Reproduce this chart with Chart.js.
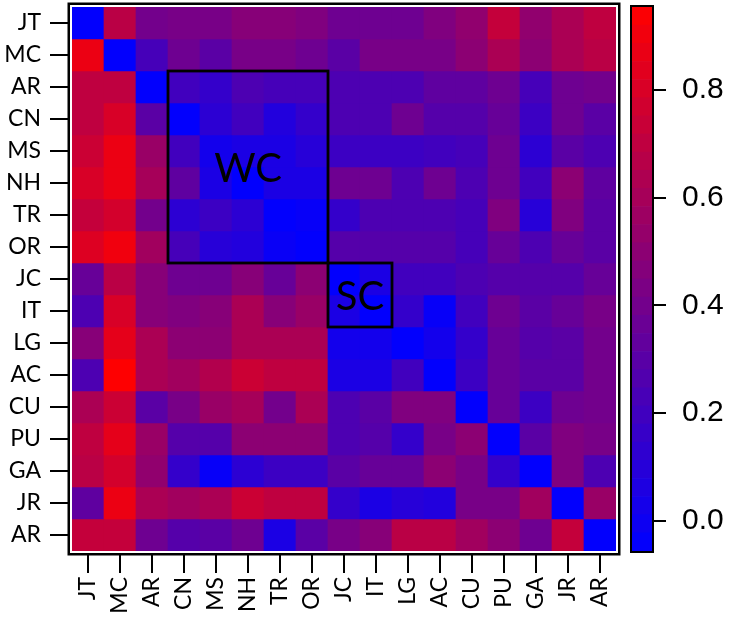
<!DOCTYPE html>
<html>
<head>
<meta charset="utf-8">
<script src="https://cdn.jsdelivr.net/npm/chart.js@4.4.0/dist/chart.umd.min.js"></script>
<style>
  body { margin: 0; background: #fff; }
  #wrap { position: relative; width: 733px; height: 618px; }
  #heat { position: absolute; left: 0; top: 0; }
  #cbar { position: absolute; left: 620px; top: 0; }
</style>
</head>
<body>
<div id="wrap">
  <canvas id="heat" width="625" height="618"></canvas>
  <canvas id="cbar" width="113" height="618"></canvas>
</div>
<script>
// labels (rows top to bottom, columns left to right)
const labels = ['JT', 'MC', 'AR', 'CN', 'MS', 'NH', 'TR', 'OR', 'JC', 'IT', 'LG', 'AC', 'CU', 'PU', 'GA', 'JR', 'AR'];

// one row of values per label
const rowJT  = [-0.05, 0.68, 0.40, 0.42, 0.42, 0.48, 0.48, 0.45, 0.38, 0.38, 0.38, 0.45, 0.52, 0.72, 0.52, 0.62, 0.70];
const rowMC  = [ 0.88,-0.05, 0.22, 0.38, 0.30, 0.42, 0.42, 0.38, 0.30, 0.42, 0.42, 0.42, 0.50, 0.62, 0.50, 0.62, 0.68];
const rowAR  = [ 0.70, 0.70,-0.05, 0.20, 0.15, 0.25, 0.22, 0.22, 0.25, 0.25, 0.25, 0.32, 0.32, 0.38, 0.22, 0.38, 0.40];
const rowCN  = [ 0.70, 0.80, 0.30,-0.05, 0.12, 0.20, 0.08, 0.15, 0.25, 0.25, 0.38, 0.28, 0.28, 0.35, 0.18, 0.38, 0.30];
const rowMS  = [ 0.75, 0.88, 0.55, 0.20, 0.02, 0.05, 0.05, 0.10, 0.18, 0.18, 0.18, 0.20, 0.22, 0.38, 0.12, 0.30, 0.25];
const rowNH  = [ 0.80, 0.88, 0.60, 0.32, 0.05,-0.05, 0.05, 0.05, 0.38, 0.38, 0.25, 0.38, 0.25, 0.38, 0.20, 0.50, 0.32];
const rowTR  = [ 0.72, 0.78, 0.40, 0.12, 0.18, 0.12,-0.05,-0.03, 0.15, 0.25, 0.25, 0.25, 0.22, 0.45, 0.10, 0.45, 0.30];
const rowOR  = [ 0.82, 0.90, 0.58, 0.22, 0.10, 0.08,-0.02,-0.05, 0.28, 0.28, 0.28, 0.28, 0.22, 0.35, 0.25, 0.35, 0.30];
const rowJC  = [ 0.35, 0.68, 0.48, 0.38, 0.38, 0.48, 0.35, 0.50,-0.05, 0.05, 0.20, 0.20, 0.25, 0.28, 0.28, 0.28, 0.35];
const rowIT  = [ 0.25, 0.80, 0.48, 0.45, 0.48, 0.62, 0.48, 0.55, 0.05,-0.05, 0.15,-0.03, 0.20, 0.38, 0.30, 0.35, 0.42];
const rowLG  = [ 0.48, 0.85, 0.62, 0.50, 0.50, 0.62, 0.62, 0.62, 0.02, 0.02,-0.05, 0.02, 0.15, 0.35, 0.28, 0.30, 0.40];
const rowAC  = [ 0.25, 0.95, 0.62, 0.58, 0.65, 0.75, 0.70, 0.70, 0.05, 0.05, 0.20,-0.05, 0.18, 0.35, 0.30, 0.30, 0.40];
const rowCU  = [ 0.62, 0.75, 0.30, 0.42, 0.55, 0.60, 0.40, 0.62, 0.25, 0.30, 0.45, 0.45,-0.05, 0.35, 0.18, 0.38, 0.40];
const rowPU  = [ 0.70, 0.85, 0.55, 0.28, 0.28, 0.50, 0.50, 0.50, 0.25, 0.28, 0.15, 0.42, 0.50,-0.05, 0.30, 0.45, 0.42];
const rowGA  = [ 0.68, 0.78, 0.52, 0.15,-0.03, 0.12, 0.18, 0.18, 0.30, 0.35, 0.35, 0.50, 0.42, 0.15,-0.05, 0.45, 0.25];
const rowJR  = [ 0.32, 0.88, 0.62, 0.58, 0.62, 0.75, 0.70, 0.70, 0.15, 0.05, 0.10, 0.08, 0.42, 0.42, 0.58,-0.05, 0.55];
const rowAR2 = [ 0.72, 0.72, 0.38, 0.28, 0.30, 0.38, 0.05, 0.30, 0.42, 0.48, 0.68, 0.68, 0.58, 0.50, 0.38, 0.72,-0.05];
const rows = [rowJT, rowMC, rowAR, rowCN, rowMS, rowNH, rowTR, rowOR, rowJC, rowIT, rowLG, rowAC, rowCU, rowPU, rowGA, rowJR, rowAR2];

// colour scale
const cbMin = -0.056;
const cbMax = 0.954;
const cbTicks = [0.0, 0.2, 0.4, 0.6, 0.8];
const cbSteps = 30;

// outlined blocks: column range and row range (indices)
const boxes = [
  { text: 'WC', c0: 3, c1: 7, r0: 2, r1: 7 },
  { text: 'SC', c0: 8, c1: 9, r0: 8, r1: 9 }
];

function colorFor(v) {
  let t = (v - cbMin) / (cbMax - cbMin);
  t = Math.max(0, Math.min(1, t));
  return 'rgb(' + Math.round(255 * t) + ',0,' + Math.round(255 * (1 - t)) + ')';
}

function noPad(scale) {
  scale.paddingTop = 0;
  scale.paddingBottom = 0;
  scale.paddingLeft = 0;
  scale.paddingRight = 0;
}

const heatSets = rows.map((row, r) => ({
  data: row.map(() => [r, r + 1]),
  backgroundColor: row.map(colorFor),
  borderWidth: 0,
  grouped: false,
  barPercentage: 1,
  categoryPercentage: 1
}));

const framePlugin = {
  id: 'frame',
  afterDatasetsDraw(chart) {
    const { ctx, chartArea: a } = chart;
    ctx.save();
    ctx.strokeStyle = '#fff';
    ctx.lineWidth = 2;
    ctx.strokeRect(a.left - 1, a.top - 1, a.width + 2, a.height + 2);
    ctx.strokeStyle = '#000';
    ctx.lineWidth = 2.5;
    ctx.strokeRect(a.left - 3.25, a.top - 3.25, a.width + 6.5, a.height + 6.5);
    ctx.restore();
  }
};

const boxPlugin = {
  id: 'boxes',
  afterDatasetsDraw(chart) {
    const { ctx } = chart;
    const x = chart.scales.x, y = chart.scales.y;
    const half = (x.getPixelForValue(1) - x.getPixelForValue(0)) / 2;
    ctx.save();
    boxes.forEach(b => {
      const left = x.getPixelForValue(b.c0) - half;
      const right = x.getPixelForValue(b.c1) + half;
      const top = y.getPixelForValue(b.r0);
      const bottom = y.getPixelForValue(b.r1 + 1);
      ctx.strokeStyle = '#000';
      ctx.lineWidth = 2.8;
      ctx.strokeRect(left, top, right - left, bottom - top);
      ctx.fillStyle = '#000';
      ctx.font = '40px Lato';
      ctx.textAlign = 'center';
      ctx.textBaseline = 'middle';
      ctx.fillText(b.text, (left + right) / 2, (top + bottom) / 2 + 2);
    });
    ctx.restore();
  }
};

new Chart(document.getElementById('heat'), {
  type: 'bar',
  data: { labels: labels, datasets: heatSets },
  options: {
    responsive: false,
    animation: false,
    layout: { padding: { top: 7, right: 9, left: 0, bottom: 0 } },
    plugins: { legend: { display: false }, tooltip: { enabled: false } },
    scales: {
      x: {
        type: 'category',
        grid: { display: true, drawOnChartArea: false, offset: false, tickLength: 22, color: '#000', lineWidth: 2 },
        border: { display: false },
        ticks: { autoSkip: false, maxRotation: 90, minRotation: 90, padding: 4, color: '#000', font: { family: 'Lato', size: 23 } },
        afterFit(scale) { scale.height = 67; noPad(scale); }
      },
      y: {
        type: 'linear',
        min: 0,
        max: labels.length,
        reverse: true,
        grid: { display: true, drawOnChartArea: false, tickLength: 22, color: '#000', lineWidth: 2 },
        border: { display: false },
        afterBuildTicks(scale) { scale.ticks = labels.map((_, i) => ({ value: i + 0.5 })); },
        ticks: {
          padding: 9, color: '#000', font: { family: 'Lato', size: 23 },
          callback: v => labels[Math.floor(v)]
        },
        afterFit(scale) { scale.width = 72; noPad(scale); }
      }
    }
  },
  plugins: [framePlugin, boxPlugin]
});

// colour bar
const cbSets = [];
for (let i = 0; i < cbSteps; i++) {
  const v0 = cbMin + (cbMax - cbMin) * i / cbSteps;
  const v1 = cbMin + (cbMax - cbMin) * (i + 1) / cbSteps;
  cbSets.push({
    data: [[v0, v1]],
    backgroundColor: colorFor((v0 + v1) / 2),
    borderWidth: 0,
    grouped: false,
    barPercentage: 1,
    categoryPercentage: 1
  });
}

const cbFrame = {
  id: 'cbframe',
  afterDatasetsDraw(chart) {
    const { ctx, chartArea: a } = chart;
    ctx.save();
    ctx.strokeStyle = '#000';
    ctx.lineWidth = 2;
    ctx.strokeRect(a.left - 1, a.top - 1, a.width + 2, a.height + 2);
    ctx.restore();
  }
};

new Chart(document.getElementById('cbar'), {
  type: 'bar',
  data: { labels: [''], datasets: cbSets },
  options: {
    responsive: false,
    animation: false,
    layout: { padding: { top: 7, left: 12, right: 0, bottom: 67 } },
    plugins: { legend: { display: false }, tooltip: { enabled: false } },
    scales: {
      x: { display: false },
      y: {
        type: 'linear',
        position: 'right',
        min: cbMin,
        max: cbMax,
        grid: { display: true, drawOnChartArea: false, tickLength: 14, color: '#000', lineWidth: 2 },
        border: { display: false },
        afterBuildTicks(scale) { scale.ticks = cbTicks.map(v => ({ value: v })); },
        ticks: {
          padding: 16, color: '#000', font: { family: 'Liberation Sans', size: 30 },
          callback: v => v.toFixed(1)
        },
        afterFit(scale) { scale.width = 81; noPad(scale); }
      }
    }
  },
  plugins: [cbFrame]
});
</script>
</body>
</html>
